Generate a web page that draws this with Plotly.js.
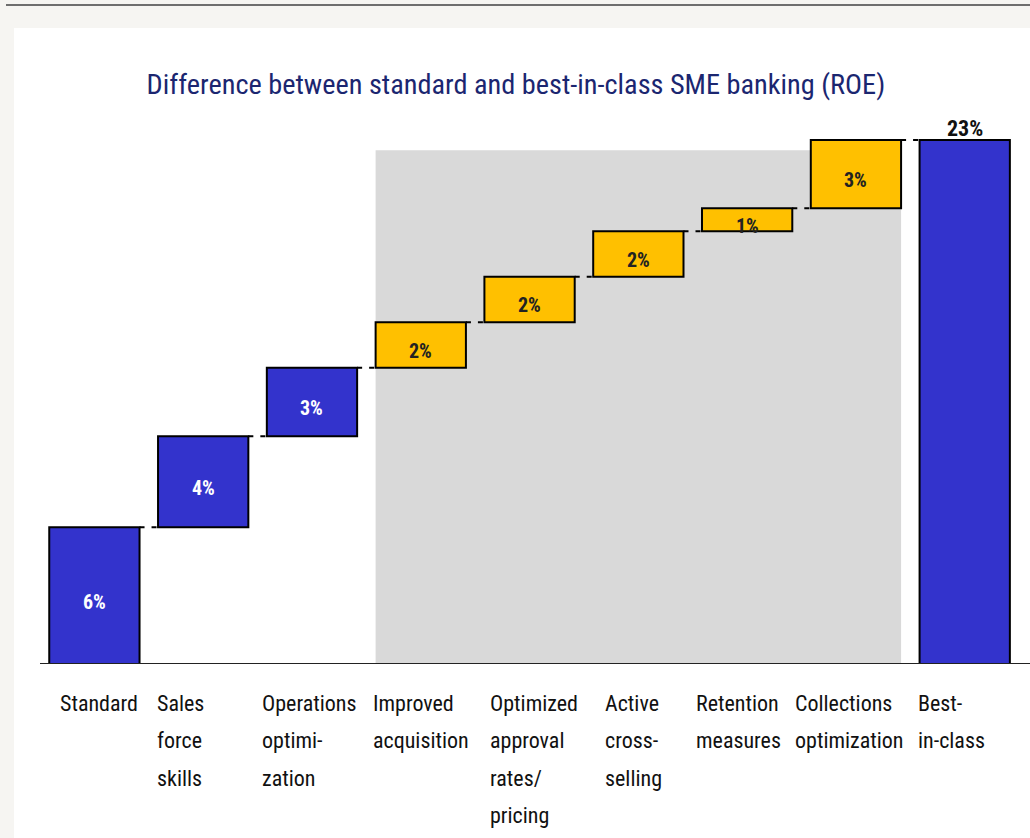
<!DOCTYPE html>
<html>
<head>
<meta charset="utf-8">
<script src="https://cdn.plot.ly/plotly-3.0.1.min.js"></script>
<style>
  html, body { margin: 0; padding: 0; width: 1030px; height: 838px; overflow: hidden; background: #f6f5f2; }
  #topline { position: absolute; left: 6px; top: 4px; width: 1024px; height: 2px; background: #6e6e6e; }
  #chart { position: absolute; left: 14px; top: 28px; width: 1016px; height: 810px; background: #ffffff; }
</style>
</head>
<body>
<div id="topline"></div>
<div id="chart"></div>
<script>
// ---- data ----
const categories = [
  ['Standard'],
  ['Sales', 'force', 'skills'],
  ['Operations', 'optimi-', 'zation'],
  ['Improved', 'acquisition'],
  ['Optimized', 'approval', 'rates/', 'pricing'],
  ['Active', 'cross-', 'selling'],
  ['Retention', 'measures'],
  ['Collections', 'optimization'],
  ['Best-', 'in-class']
];
const stepValues = [6, 4, 3, 2, 2, 2, 1, 3];          // ROE contribution, %
const stepGroups = ['base', 'base', 'base', 'extra', 'extra', 'extra', 'extra', 'extra'];
const valueLabels = ['6%', '4%', '3%', '2%', '2%', '2%', '1%', '3%', '23%'];

// ---- style ----
const BLUE = '#3333cc', YELLOW = '#ffc000';
const W = 0.83;
const labelNudgePx = [9, -3, -7, -5, 4, 10, -8, -18, -4];   // horizontal text-box offsets

// ---- build ----
const n = stepValues.length;
const total = stepValues.reduce((a, b) => a + b, 0);
const xs = [], bases = [], heights = [], colors = [];
let cum = 0;
for (let i = 0; i < n; i++) {
  xs.push(i); bases.push(cum); heights.push(stepValues[i]);
  colors.push(stepGroups[i] === 'base' ? BLUE : YELLOW);
  cum += stepValues[i];
}
xs.push(n); bases.push(0); heights.push(total); colors.push(BLUE);

const bars = {
  type: 'bar', x: xs, y: heights, base: bases, width: W,
  marker: { color: colors, line: { color: '#000000', width: 2 } },
  hoverinfo: 'skip', showlegend: false
};

const cx = [], cy = [];
for (let i = 0; i < xs.length - 1; i++) {
  const top = bases[i] + heights[i];
  cx.push(xs[i] + W / 2, xs[i + 1] - W / 2, null);
  cy.push(top, top, null);
}
const connectors = {
  type: 'scatter', mode: 'lines', x: cx, y: cy,
  line: { color: '#000000', width: 2, dash: '5px,7px' },
  hoverinfo: 'skip', showlegend: false
};

const FONT = '"Liberation Sans Narrow", "Roboto Condensed", Roboto, sans-serif';
const annotations = [];
for (let i = 0; i < xs.length; i++) {
  const isTotal = i === xs.length - 1;
  annotations.push({
    x: xs[i], y: isTotal ? bases[i] + heights[i] : bases[i] + heights[i] / 2,
    xref: 'x', yref: 'y', text: valueLabels[i], showarrow: false,
    yanchor: 'middle', yshift: isTotal ? 12 : -6,
    font: { family: FONT, size: isTotal ? 22 : 20, weight: 'bold',
            color: isTotal ? '#111111' : (colors[i] === BLUE ? '#ffffff' : '#222222') }
  });
  categories[i].forEach((line, k) => {
    annotations.push({
      x: xs[i] - W / 2, y: 0, xref: 'x', yref: 'y', text: line, showarrow: false,
      xanchor: 'left', yanchor: 'middle', yshift: -39 - 37.5 * k, xshift: labelNudgePx[i],
      font: { family: FONT, size: 22, color: '#111111' }
    });
  });
}

const layout = {
  width: 1016, height: 810,
  margin: { l: 26, r: 0, t: 102, b: 174 },
  paper_bgcolor: '#ffffff', plot_bgcolor: '#ffffff',
  title: {
    text: 'Difference between standard and best-in-class SME banking (ROE)',
    x: 0.494, xanchor: 'center', xref: 'container',
    y: 0.931, yanchor: 'middle', yref: 'container',
    font: { family: FONT, size: 28.3, color: '#1b2670' }
  },
  xaxis: { range: [-0.5, 8.6], showticklabels: false, ticks: '', showgrid: false, zeroline: false,
           showline: false, fixedrange: true },
  yaxis: { range: [0, 23.44], visible: false, showgrid: false, zeroline: false, fixedrange: true },
  shapes: [
    { type: 'rect', xref: 'x', yref: 'y', x0: 3 - W / 2, x1: 7 + W / 2, y0: 0, y1: 22.55,
      fillcolor: '#d9d9d9', line: { width: 0 }, layer: 'below' },
    { type: 'line', xref: 'paper', yref: 'y', x0: 0, x1: 1, y0: 0, y1: 0,
      line: { color: '#222222', width: 2 } }
  ],
  annotations: annotations,
  bargap: 0
};

Plotly.newPlot('chart', [bars, connectors], layout, { displayModeBar: false, staticPlot: true });
</script>
</body>
</html>
